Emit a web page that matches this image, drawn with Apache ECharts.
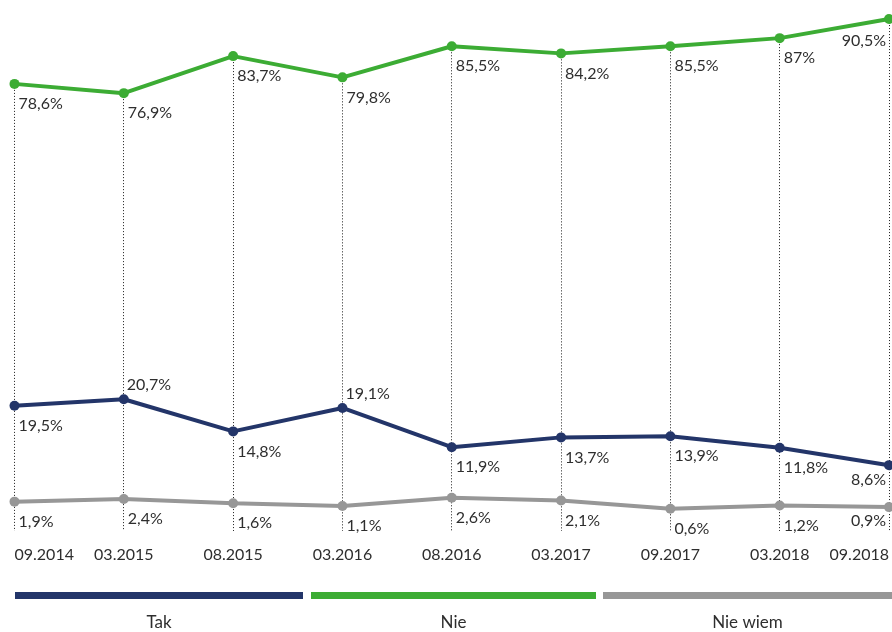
<!DOCTYPE html>
<html>
<head>
<meta charset="utf-8">
<script src="https://cdn.jsdelivr.net/npm/echarts@6/dist/echarts.min.js"></script>
<style>
html,body{margin:0;padding:0;background:#fff;}
#chart{width:892px;height:632px;}
</style>
</head>
<body>
<div id="chart"></div>
<script>
var categories = ["09.2014","03.2015","08.2015","03.2016","08.2016","03.2017","09.2017","03.2018","09.2018"];
var takValues = [19.5, 20.7, 14.8, 19.1, 11.9, 13.7, 13.9, 11.8, 8.6];
var nieValues = [78.6, 76.9, 83.7, 79.8, 85.5, 84.2, 85.5, 87, 90.5];
var nieWiemValues = [1.9, 2.4, 1.6, 1.1, 2.6, 2.1, 0.6, 1.2, 0.9];
var seriesNames = ["Tak", "Nie", "Nie wiem"];
var seriesColors = ["#233569", "#3cac34", "#979797"];

var FONT = "Lato";
var TEXT = "#2e2e2e";

function fmt(v){ return String(v).replace('.', ',') + '%'; }

function buildData(values, aboveIdx, lastDy){
  var n = values.length;
  return values.map(function(v, i){
    var lbl;
    if (i === n - 1) {
      lbl = {position: 'left', distance: 0, offset: [2, lastDy]};
    } else if (aboveIdx.indexOf(i) >= 0) {
      lbl = {position: 'right', distance: 0, offset: [-2, -14]};
    } else {
      lbl = {position: 'right', distance: 0, offset: [-1, 20]};
    }
    return {value: v, label: lbl};
  });
}

function lineSeries(name, values, color, aboveIdx, lastDy){
  return {
    name: name,
    type: 'line',
    data: buildData(values, aboveIdx, lastDy),
    symbol: 'circle',
    symbolSize: 10,
    lineStyle: {color: color, width: 4},
    itemStyle: {color: color},
    z: 5,
    label: {
      show: true,
      formatter: function(p){ return fmt(p.value); },
      fontFamily: FONT,
      fontSize: 16,
      color: TEXT
    }
  };
}

var chart = echarts.init(document.getElementById('chart'));

var legendGraphics = [];
var legendX = [[15, 303], [311, 596], [603, 892]];
seriesNames.forEach(function(nm, i){
  var x0 = legendX[i][0], x1 = legendX[i][1];
  legendGraphics.push({
    type: 'rect', left: x0, top: 592,
    shape: {width: x1 - x0, height: 7},
    style: {fill: seriesColors[i]}
  });
  legendGraphics.push({
    type: 'text', x: (x0 + x1) / 2, y: 623,
    style: {text: nm, fontFamily: FONT, fontSize: 17, fill: TEXT, align: 'center', verticalAlign: 'middle'}
  });
});

chart.setOption({
  animation: false,
  backgroundColor: '#ffffff',
  grid: {left: 14.5, right: 2, top: 0, bottom: 120},
  xAxis: {
    type: 'category',
    data: categories,
    boundaryGap: false,
    axisLine: {show: false},
    axisTick: {show: false},
    splitLine: {show: false},
    axisLabel: {
      interval: 0,
      margin: 35,
      fontFamily: FONT,
      fontSize: 16,
      color: TEXT,
      alignMinLabel: 'left',
      alignMaxLabel: 'right'
    }
  },
  yAxis: {
    type: 'value',
    min: 0,
    max: 94,
    show: false,
    splitLine: {show: false}
  },
  graphic: legendGraphics,
  series: [
    {
      type: 'custom',
      name: 'guides',
      silent: true,
      z: 1,
      data: nieValues.map(function(v, i){ return [i, v]; }),
      encode: {x: 0, y: 1},
      renderItem: function(params, api){
        var top = api.coord([api.value(0), api.value(1)]);
        var bottom = api.coord([api.value(0), 0]);
        var x = Math.round(top[0] - 0.5) + 0.5;
        return {
          type: 'line',
          shape: {x1: x, y1: top[1], x2: x, y2: bottom[1] + 19},
          style: {stroke: '#1a1a1a', lineWidth: 1, lineDash: [1, 2]}
        };
      }
    },
    lineSeries(seriesNames[0], takValues, seriesColors[0], [1, 3], 15),
    lineSeries(seriesNames[1], nieValues, seriesColors[1], [], 22),
    lineSeries(seriesNames[2], nieWiemValues, seriesColors[2], [], 14)
  ]
});
</script>
</body>
</html>
